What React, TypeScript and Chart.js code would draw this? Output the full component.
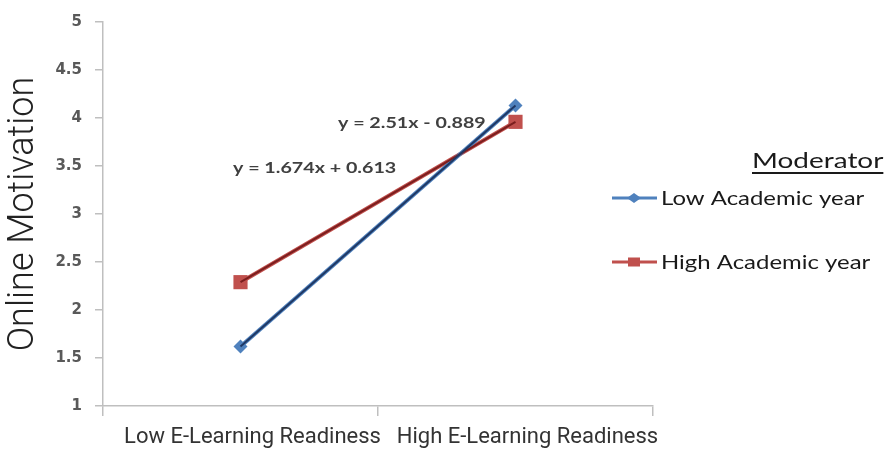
import React, { useEffect, useRef } from "react";
import { Chart, registerables } from "chart.js";

Chart.register(...registerables);

const categories = ["Low E-Learning Readiness", "High E-Learning Readiness"];
const seriesNames = ["Low Academic year", "High Academic year"];
const lowAcademicYear = [1.62, 4.13];
const highAcademicYear = [2.29, 3.96];
const trendEquations = ["y = 2.51x - 0.889", "y = 1.674x + 0.613"];
const legendTitle = "Moderator";
const yAxisTitle = "Online Motivation";
const yMin = 1;
const yMax = 5;
const yStep = 0.5;

const BLUE = "#4F81BD";
const RED = "#C0504D";
const NAVY = "#1F3864";
const DARKRED = "#7B1E1E";

function stretchedText(ctx: any, text: string, x: number, y: number, font: string, sx: number) {
  ctx.save();
  ctx.font = font;
  ctx.translate(x, y);
  ctx.scale(sx, 1);
  ctx.fillText(text, 0, 0);
  const w = ctx.measureText(text).width * sx;
  ctx.restore();
  return w;
}

const overlayPlugin = {
  id: "overlayText",
  afterDraw(chart: any) {
    const ctx = chart.ctx;
    ctx.save();
    ctx.textAlign = "left";
    ctx.textBaseline = "alphabetic";

    // trend equations
    ctx.fillStyle = "#404040";
    stretchedText(ctx, trendEquations[0], 338, 128, "bold 16px Lato", 1.23);
    stretchedText(ctx, trendEquations[1], 233, 173, "bold 16px Lato", 1.23);

    // legend title
    ctx.fillStyle = "#1a1a1a";
    const w = stretchedText(ctx, legendTitle, 752, 168, "22px Lato", 1.27);
    ctx.strokeStyle = "#1a1a1a";
    ctx.lineWidth = 2;
    ctx.beginPath();
    ctx.moveTo(752, 173);
    ctx.lineTo(752 + w, 173);
    ctx.stroke();

    // legend items
    const ys = [198, 262];
    const colors = [BLUE, RED];
    const styles = ["rectRot", "rect"];
    for (let i = 0; i < seriesNames.length; i++) {
      const y = ys[i];
      ctx.strokeStyle = colors[i];
      ctx.lineWidth = 3;
      ctx.beginPath();
      ctx.moveTo(612, y);
      ctx.lineTo(657, y);
      ctx.stroke();
      ctx.fillStyle = colors[i];
      if (styles[i] === "rect") {
        ctx.fillRect(634 - 6, y - 4.5, 12, 9);
      } else {
        ctx.beginPath();
        ctx.moveTo(634, y - 5);
        ctx.lineTo(634 + 7, y);
        ctx.lineTo(634, y + 5);
        ctx.lineTo(634 - 7, y);
        ctx.closePath();
        ctx.fill();
      }
      ctx.fillStyle = "#1a1a1a";
      stretchedText(ctx, seriesNames[i], 661, y + 7, "19px Lato", 1.26);
    }
    ctx.restore();
  },
};

export default function App() {
  const canvasRef = useRef<HTMLCanvasElement | null>(null);

  useEffect(() => {
    if (!canvasRef.current) return;
    const chart = new Chart(canvasRef.current, {
      type: "line",
      data: {
        labels: categories,
        datasets: [
          {
            label: seriesNames[0] + " trend",
            data: lowAcademicYear,
            borderColor: NAVY,
            borderWidth: 2,
            pointRadius: 0,
            order: 0,
          },
          {
            label: seriesNames[1] + " trend",
            data: highAcademicYear,
            borderColor: DARKRED,
            borderWidth: 2,
            pointRadius: 0,
            order: 0,
          },
          {
            label: seriesNames[0],
            data: lowAcademicYear,
            borderColor: BLUE,
            backgroundColor: BLUE,
            borderWidth: 4,
            pointStyle: "rectRot",
            pointRadius: 7,
            pointBorderWidth: 0,
            order: 1,
          },
          {
            label: seriesNames[1],
            data: highAcademicYear,
            borderColor: RED,
            backgroundColor: RED,
            borderWidth: 4,
            pointStyle: "rect",
            pointRadius: 10,
            pointBorderWidth: 0,
            order: 1,
          },
        ],
      },
      options: {
        animation: false,
        responsive: false,
        layout: { padding: { left: 0, top: 20, right: 234, bottom: 0 } },
        plugins: {
          legend: { display: false },
          tooltip: { enabled: false },
        },
        scales: {
          x: {
            offset: true,
            grid: {
              offset: true,
              drawOnChartArea: false,
              tickLength: 10,
              color: "#BFBFBF",
              lineWidth: 1.5,
            },
            border: { color: "#BFBFBF", width: 1.5 },
            ticks: {
              color: "#333333",
              font: { family: "Roboto", size: 22 },
              padding: 8,
              labelOffset: 12,
              maxRotation: 0,
            },
            afterFit: (scale: any) => {
              scale.height = 44;
            },
          },
          y: {
            min: yMin,
            max: yMax,
            ticks: {
              stepSize: yStep,
              color: "#595959",
              font: { family: "DejaVu Sans", size: 15, weight: "bold" },
              padding: 13,
              callback: (v: any) => String(v),
            },
            grid: {
              drawOnChartArea: false,
              tickLength: 8,
              color: "#BFBFBF",
              lineWidth: 1.5,
            },
            border: { color: "#BFBFBF", width: 1.5 },
            title: {
              display: true,
              text: yAxisTitle,
              color: "#222222",
              font: { family: "Roboto", size: 36, weight: "300" },
              padding: { top: 2, bottom: 0 },
            },
            afterFit: (scale: any) => {
              scale.width = 103;
            },
          },
        },
      },
      plugins: [overlayPlugin],
    });
    return () => chart.destroy();
  }, []);

  return (
    <div style={{ position: "absolute", left: 0, top: 0, width: 887, height: 450, background: "#fff" }}>
      <canvas ref={canvasRef} width={887} height={450} />
    </div>
  );
}
